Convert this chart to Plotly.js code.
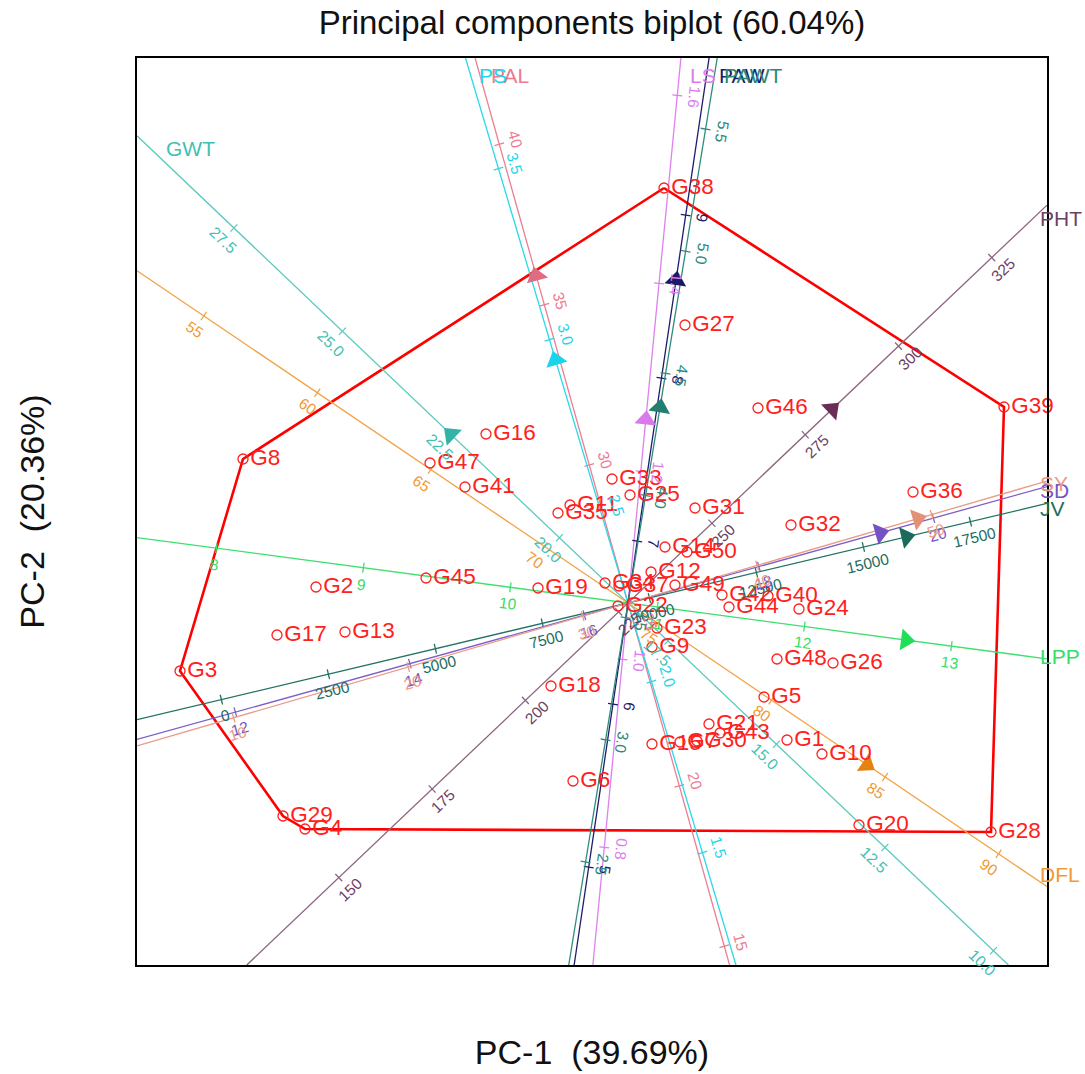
<!DOCTYPE html>
<html><head><meta charset="utf-8">
<script src="https://cdn.plot.ly/plotly-3.0.1.min.js"></script>
<style>html,body{margin:0;padding:0;background:#fff}</style>
</head><body>
<div id="chart" style="width:1085px;height:1074px"></div>
<script>
// ---- Genotype scores (PC-1, PC-2) ----
const genotypes = ["G1","G2","G3","G4","G5","G6","G7","G8","G9","G10","G11","G12","G13","G14","G15","G16","G17","G18","G19","G20","G21","G22","G23","G24","G25","G26","G27","G28","G29","G30","G31","G32","G33","G34","G35","G36","G37","G38","G39","G40","G41","G42","G43","G44","G45","G46","G47","G48","G49","G50"];
const pc1 = [1.59,-3.12,-4.48,-3.23,1.36,-0.55,0.52,-3.85,0.24,1.94,-0.58,0.23,-2.83,0.37,0.24,-1.42,-3.51,-0.77,-0.90,2.31,0.81,-0.10,0.29,1.71,0.02,2.05,0.57,3.63,-3.45,0.69,0.67,1.63,-0.16,-0.23,-0.70,2.85,-0.09,0.36,3.76,1.40,-1.63,0.94,0.92,1.01,-2.02,1.30,-1.98,1.49,0.47,0.59];
const pc2 = [-1.37,0.16,-0.68,-2.26,-0.94,-1.78,-1.39,1.44,-0.44,-1.51,0.98,0.31,-0.29,0.56,-1.41,1.69,-0.32,-0.83,0.15,-2.22,-1.21,-0.03,-0.25,-0.06,1.08,-0.60,2.78,-2.29,-2.13,-1.38,0.95,0.78,1.24,0.20,0.90,1.11,0.17,4.15,1.96,0.07,1.16,0.08,-1.30,-0.04,0.25,1.95,1.40,-0.56,0.18,0.51];
const hullOrder = ["G38","G39","G28","G4","G29","G3","G8","G38"];

// ---- Trait calibrated axes ----
const traits     = ["GWT","DFL","LPP","JV","SD","SY","PHT","PAL","PS","LS","PAW","PAWT"];
const traitMean  = [18.42, 73.68, 10.8, 9500, 16.5, 32.6, 227.5, 25.7, 2.23, 1.06, 6.62, 3.56];
// change in (PC-1, PC-2) per unit of the trait
const traitDx    = [-0.434, 0.2271, 1.47, 0.000428, 0.8725, 0.1745, 0.03731, -0.090, -1.02, 0.9125, 0.2425, 0.40];
const traitDy    = [0.413, -0.1537, -0.196, 0.0001017, 0.2425, 0.0508, 0.03543, 0.3208, 3.42, 9.40, 1.63, 2.443];
const traitArrow = [22.5, 84.2, 12.69, 16000, 19.39, 49.2, 282.2, 35.9, 2.94, 1.255, 8.60, 4.36];
const traitTicks = [
  [10,12.5,15,17.5,20,22.5,25,27.5],
  [55,60,65,70,75,80,85,90],
  [8,9,10,11,12,13],
  [0,2500,5000,7500,10000,12500,15000,17500],
  [12,14,16,18,20],
  [10,20,30,40,50],
  [150,175,200,225,250,275,300,325],
  [15,20,25,30,35,40],
  [1.5,2,2.5,3,3.5],
  [0.8,1,1.2,1.4,1.6],
  [5,6,7,8,9],
  [2.5,3,3.5,4,4.5,5,5.5]
];
const tickDecimals = [1,0,0,0,0,0,0,0,1,1,0,1];

// ---- styles ----
const lineColor  = ["#5cc9bd","#f0a445","#3ee06e","#237364","#7c60c8","#eb9a86","#8c6580","#ea7f92","#2ad8ea","#de80ee","#1c1c6c","#2f8c7c"];
const arrowColor = ["#31b3a5","#e58212","#22dd58","#1b6a5c","#7452c6","#e39079","#6a2d55","#e06c84","#1ad4ea","#d879ec","#1a1a66","#247e70"];
const textColor  = ["#3fc1b3","#f09a35","#35de66","#1f6d60","#7456c4","#ee9a86","#6e3f62","#ee7a90","#22d6ea","#da7eee","#1c1c6c","#2d8878"];
const tickSide   = [1,-1,-1,-1,-1,-1,-1,-1,-1,-1,-1,-1];
// label placement offsets (px) from the point where each axis leaves the frame
const labShiftX  = [27,-9,-9,-9,-9,-9,-9,14,12,7,8,5];
const labShiftY  = [-13,12,2,-5,-4,-2,-13,-17,-17,-17,-17,-17];

const xRange = [-4.91, 4.19], yRange = [-3.62, 5.45];
const FONT = "Liberation Sans, Arial, Helvetica, sans-serif";

const traces = [];
const annotations = [];

// hull
const hx = hullOrder.map(g => pc1[genotypes.indexOf(g)]);
const hy = hullOrder.map(g => pc2[genotypes.indexOf(g)]);
traces.push({x:hx, y:hy, mode:"lines", line:{color:"#ff0000", width:2.6}, hoverinfo:"skip", showlegend:false});

function clipRange(dx, dy){
  let lo=-Infinity, hi=Infinity;
  [[dx,xRange],[dy,yRange]].forEach(([d,r])=>{
    if (Math.abs(d)>1e-12){ const a=r[0]/d, b=r[1]/d; lo=Math.max(lo,Math.min(a,b)); hi=Math.min(hi,Math.max(a,b)); }
  });
  return [lo,hi];
}

const arrowX=[], arrowY=[], arrowAng=[], arrowCol=[];
traits.forEach((name,i)=>{
  const dx=traitDx[i], dy=traitDy[i];
  const n=Math.hypot(dx,dy), ux=dx/n, uy=dy/n;
  const [lo,hi]=clipRange(dx,dy);
  traces.push({x:[lo*dx, hi*dx], y:[lo*dy, hi*dy], mode:"lines",
    line:{color:lineColor[i], width:1.3}, hoverinfo:"skip", showlegend:false});
  const px=-uy*tickSide[i], py=ux*tickSide[i];
  const tx=[], ty=[];
  let ang = Math.atan2(-uy, ux)*180/Math.PI;
  while (ang>120) ang-=180; while (ang<=-60) ang+=180;
  traitTicks[i].forEach(v=>{
    const cx=(v-traitMean[i])*dx, cy=(v-traitMean[i])*dy;
    tx.push(cx-0.05*px, cx+0.05*px, null); ty.push(cy-0.05*py, cy+0.05*py, null);
    annotations.push({x:cx+0.165*px, y:cy+0.165*py, xref:"x", yref:"y", showarrow:false,
      text:v.toFixed(tickDecimals[i]), textangle:ang, xanchor:"center", yanchor:"middle",
      font:{family:FONT, size:15.5, color:textColor[i]}});
  });
  traces.push({x:tx, y:ty, mode:"lines", line:{color:lineColor[i], width:1.3}, hoverinfo:"skip", showlegend:false});
  const av=traitArrow[i]-traitMean[i];
  arrowX.push(av*dx); arrowY.push(av*dy);
  arrowAng.push(Math.atan2(ux, uy)*180/Math.PI);
  arrowCol.push(arrowColor[i]);
  annotations.push({x:hi*dx, y:hi*dy, xref:"x", yref:"y", showarrow:false, text:name,
    xanchor:"left", yanchor:"middle", xshift:labShiftX[i], yshift:labShiftY[i],
    font:{family:FONT, size:21, color:textColor[i]}});
});
traces.push({x:arrowX, y:arrowY, mode:"markers", hoverinfo:"skip", showlegend:false,
  marker:{symbol:"triangle-up", size:19, angle:arrowAng, color:arrowCol, line:{width:0}}});

// genotypes
traces.push({x:pc1, y:pc2, text:genotypes, mode:"markers+text", textposition:"middle right",
  cliponaxis:false, showlegend:false,
  marker:{symbol:"circle-open", size:10, color:"#ff2020", line:{width:1.3}},
  textfont:{family:FONT, size:22.5, color:"#ff2020"}});

const layout = {
  width:1085, height:1074,
  margin:{l:137, r:38, t:58, b:109},
  paper_bgcolor:"#ffffff", plot_bgcolor:"#ffffff",
  font:{family:FONT, color:"#000"},
  title:{text:"Principal components biplot (60.04%)", font:{family:FONT, size:33, color:"#111"},
    x:0.5, xref:"paper", y:1-22/1074, yref:"container", yanchor:"middle"},
  xaxis:{range:xRange, showgrid:false, zeroline:false, showticklabels:false, ticks:"",
    showline:true, mirror:true, linecolor:"#000", linewidth:2,
    title:{text:"PC-1\u00a0\u00a0(39.69%)", font:{family:FONT, size:34, color:"#111"}, standoff:74}},
  yaxis:{range:yRange, showgrid:false, zeroline:false, showticklabels:false, ticks:"",
    showline:true, mirror:true, linecolor:"#000", linewidth:2,
    title:{text:"PC-2\u00a0\u00a0(20.36%)", font:{family:FONT, size:34, color:"#111"}, standoff:80}},
  annotations:annotations
};
Plotly.newPlot("chart", traces, layout, {displayModeBar:false, staticPlot:true});
</script>
</body></html>
